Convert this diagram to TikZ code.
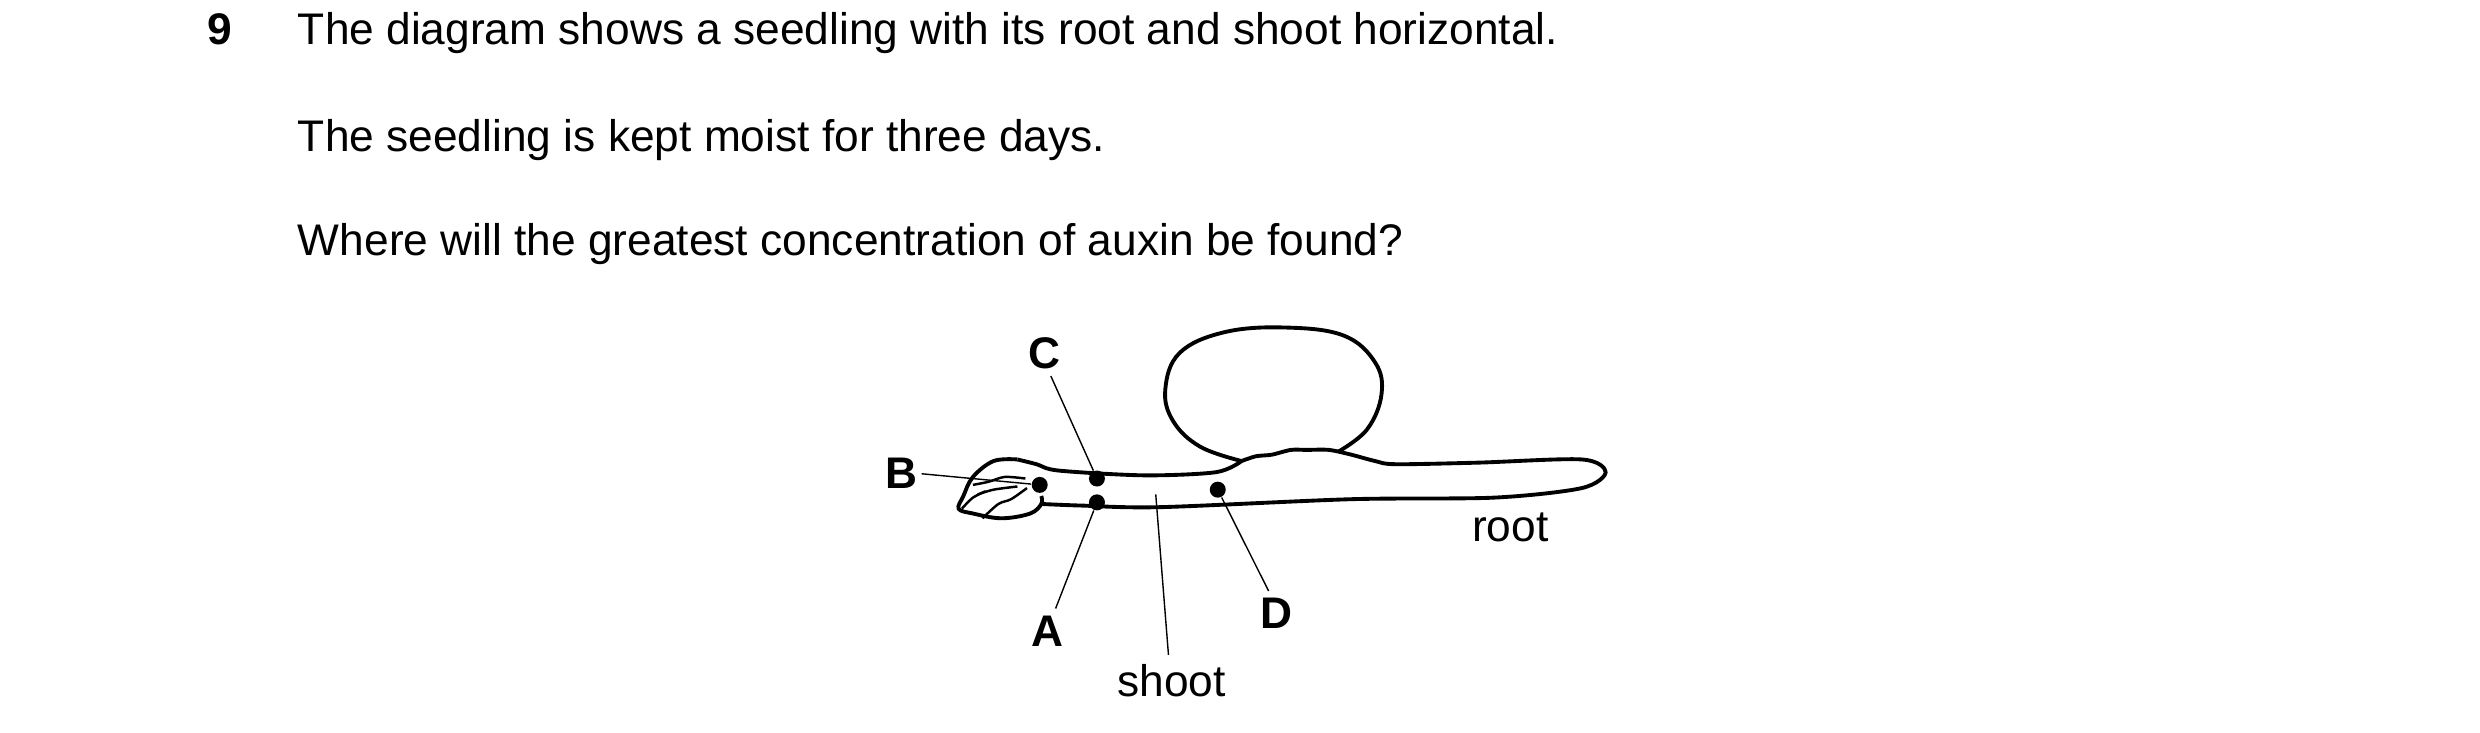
\documentclass[tikz,border=0pt]{standalone}
\usepackage{fontspec}
\setmainfont{Liberation Sans}
\begin{document}
\begin{tikzpicture}[x=0.0159cm,y=-0.0159cm,font=\fontsize{12.6}{15}\selectfont]
\tikzstyle{outline} = [line width=1.1pt, line join=round]
\tikzstyle{pointer} = [line width=0.4pt]
\tikzstyle{spot} = [circle, fill, inner sep=0pt, minimum size=1.6mm]
\tikzstyle{letter} = [font=\fontsize{12.6}{15}\selectfont\bfseries, inner sep=1pt]
\useasboundingbox (0,0) rectangle (1560,461);
% question text
\node[anchor=base, font=\fontsize{12.6}{15}\selectfont\bfseries] (num) at (138,28) {9};
\node[anchor=base west, inner sep=0pt] (l1) at (187,28) {The diagram shows a seedling with its root and shoot horizontal.};
\node[anchor=base west, inner sep=0pt] (l2) at (187,95) {The seedling is kept moist for three days.};
\node[anchor=base west, inner sep=0pt] (l3) at (187,161) {Where will the greatest concentration of auxin be found?};
% seed
\draw[outline] plot[smooth, tension=0.65] coordinates {(781,290) (755,281) (738,265) (733,245) (742,222) (770,209) (808,206) (845,211) (865,228) (869,248) (860,270) (842,284)};
% shoot and root
\draw[outline] plot[smooth, tension=0.5] coordinates {(640,289) (652,292) (666,296) (720,299) (765,297) (781,290)};
\draw[outline] plot[smooth, tension=0.5] coordinates {(781,290) (790,287) (800,286) (812,283) (822,283) (836,283) (850,286) (865,290) (878,292) (930,291) (995,289) (1010,297) (995,307) (940,313) (850,314) (730,319) (680,318) (655,317)};
% plumule
\draw[outline] plot[smooth, tension=0.6] coordinates {(640,289) (625,290) (612,300) (606,312) (603,320) (612,323) (630,326) (648,323) (655,317) (655,312)};
\draw[line width=0.7pt] plot[smooth] coordinates {(612,305) (622,303) (632,300) (645,301)};
\draw[line width=0.7pt] plot[smooth] coordinates {(615,311) (625,308) (640,306)};
\draw[line width=0.7pt] plot[smooth] coordinates {(618,326) (628,317) (636,314) (646,307)};
\draw[line width=0.7pt] plot[smooth] coordinates {(605,320) (612,313) (620,309)};
% labelled spots
\node[spot] (sB) at (654,305) {};
\node[spot] (sC) at (690,301) {};
\node[spot] (sA) at (690,316) {};
\node[spot] (sD) at (766,308) {};
\node[letter] (B) at (567,298) {B};
\node[letter] (C) at (657,222) {C};
\node[letter] (A) at (659,397) {A};
\node[letter] (D) at (803,386) {D};
\node (shoot) at (737,428) {shoot};
\node (root) at (950,332) {root};
\coordinate (shootpt) at (727,311);
\draw[pointer] (B.east) -- (sB);
\draw[pointer] (C.south) ++(4,2) -- (sC);
\draw[pointer] (A.north) ++(5,-2) -- (sA);
\draw[pointer] (D.north) ++(-5,-2) -- (sD);
\draw[pointer] (shoot.north) ++(-2,2) -- (shootpt);
\end{tikzpicture}
\end{document}
